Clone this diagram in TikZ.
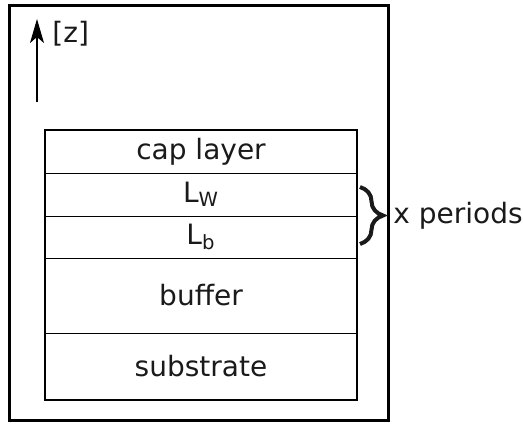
\documentclass[tikz,border=0pt]{standalone}
\usepackage{fontspec}
\setmainfont{DejaVu Sans}
\usetikzlibrary{arrows.meta,decorations.pathreplacing}
\definecolor{ink}{HTML}{1A1A1A}
\tikzset{
  layer/.style={draw, line width=0.5pt, minimum width=156pt, inner sep=0pt,
    outer sep=0pt, text=ink, font=\fontsize{14}{17}\selectfont, anchor=north west},
  frame/.style={draw, line width=1.1pt},
  label/.style={text=ink, font=\fontsize{14}{17}\selectfont, anchor=west, inner sep=0pt},
}
\begin{document}
\begin{tikzpicture}[x=0.5pt, y=-0.5pt]
  \useasboundingbox (0,0) rectangle (523,424);
  % outer frame
  \draw[frame] (9.5,5.5) rectangle (388.5,420.5);
  % layer stack (top to bottom)
  \node[layer, minimum height=21.5pt] (cap) at (45,130) {cap layer};
  \node[layer, minimum height=21.5pt] (lw) at (cap.south west) {L\textsubscript{W}};
  \node[layer, minimum height=21pt] (lb) at (lw.south west) {L\textsubscript{b}};
  \node[layer, minimum height=37.5pt] (buf) at (lb.south west) {buffer};
  \node[layer, minimum height=33.5pt] (sub) at (buf.south west) {substrate};
  \draw[frame] (cap.north west) rectangle (sub.south east);
  % growth direction
  \coordinate (zfoot) at (37,102);
  \coordinate (zhead) at (37,19);
  \draw[line width=0.6pt, -{Stealth[length=12pt, width=7pt, inset=3pt]}] (zfoot) -- (zhead);
  \node[label] (zlabel) at (52,34) {[z]};
  % periodic part
  \coordinate (btop) at (360,187);
  \coordinate (bbot) at (360,244);
  \draw[line width=2pt, ink, decorate, decoration={brace, amplitude=11.5pt, aspect=0.5}] (btop) -- (bbot);
  \node[label] (per) at (393,216) {x periods};
\end{tikzpicture}
\end{document}
